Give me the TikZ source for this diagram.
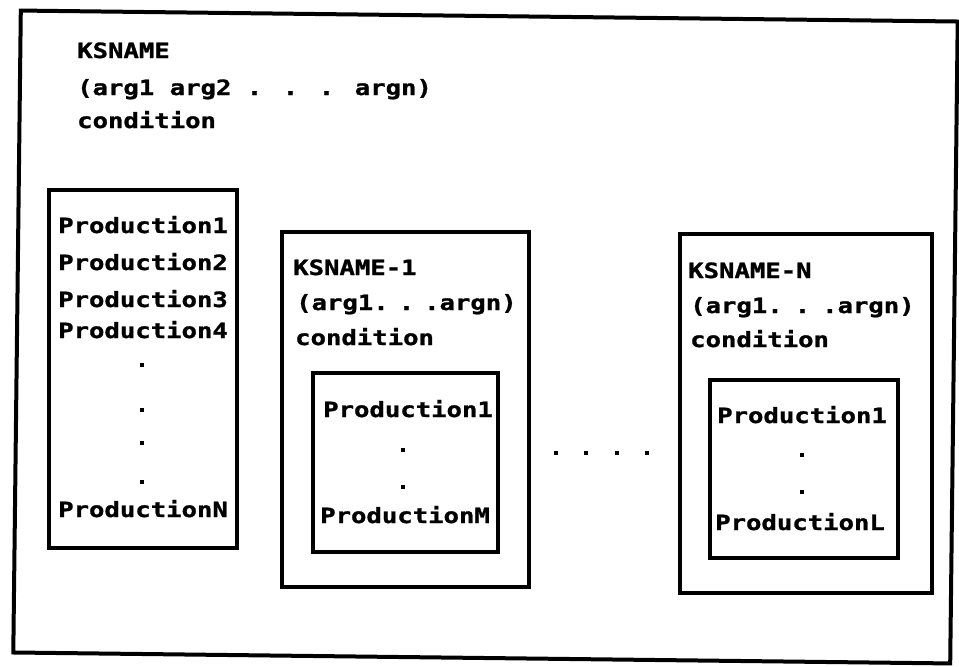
\documentclass[tikz,border=0pt]{standalone}
\usepackage{fontspec}
\newfontfamily\dm{DejaVu Sans Mono}[FakeStretch=1.22,BoldFeatures={FakeBold=1.2}]
\begin{document}
\begin{tikzpicture}[x=1pt,y=-1pt,
  frame/.style={draw, line width=4pt, inner sep=0pt},
  box/.style={draw, line width=3.5pt, inner sep=0pt},
  txt/.style={font=\dm\bfseries\fontsize{21}{21}\selectfont, inner sep=0pt, anchor=base west},
  dotm/.style={fill, inner sep=0pt, minimum size=4pt}]
\useasboundingbox (0,0) rectangle (959,667);
\fill[white] (0,0) rectangle (959,667);
% outer frame
\node[frame, minimum width=937pt, minimum height=642pt, rotate=-0.67] (outer) at (485.5,337) {};
% header
\node[txt] (h1) at (77,58) {KSNAME};
\node[txt] (h2) at (77,95) {(arg1 arg2 . . . argn)};
\node[txt] (h3) at (77,128) {condition};
% left box
\node[box, minimum width=188pt, minimum height=358pt] (lb) at (143,369) {};
\node[txt] (l1) at (58,233) {Production1};
\node[txt] (l2) at (58,270) {Production2};
\node[txt] (l3) at (58,307) {Production3};
\node[txt] (l4) at (58,338) {Production4};
\node[dotm] (ld1) at (142,365) {};
\node[dotm] (ld2) at (142,410) {};
\node[dotm] (ld3) at (142,443) {};
\node[dotm] (ld4) at (142,482) {};
\node[txt] (ln) at (58,517) {ProductionN};
% KSNAME-1 box
\node[box, minimum width=247pt, minimum height=355pt] (k1) at (405.5,409.5) {};
\node[txt] (k1a) at (293,275) {KSNAME-1};
\node[txt] (k1b) at (296,310) {(arg1.\hspace{10pt}.\hspace{10pt}.argn)};
\node[txt] (k1c) at (295,345) {condition};
\node[box, minimum width=185pt, minimum height=179pt] (p1) at (405.5,462.5) {};
\node[txt] (p1a) at (323,417) {Production1};
\node[dotm] (pd1) at (403,450) {};
\node[dotm] (pd2) at (403,487) {};
\node[txt] (p1m) at (320,523) {ProductionM};
% ellipsis between
\node[dotm] (e1) at (556,453) {};
\node[dotm] (e2) at (586,453) {};
\node[dotm] (e3) at (617,453) {};
\node[dotm] (e4) at (647,453) {};
% KSNAME-N box
\node[box, minimum width=252pt, minimum height=359pt] (kn) at (806,413.5) {};
\node[txt] (kna) at (688,278) {KSNAME-N};
\node[txt] (knb) at (690,313) {(arg1.\hspace{12pt}.\hspace{12pt}.argn)};
\node[txt] (knc) at (690,347) {condition};
\node[box, minimum width=188pt, minimum height=178pt] (pn) at (804,469) {};
\node[txt] (pna) at (717,423) {Production1};
\node[dotm] (qd1) at (802,455) {};
\node[dotm] (qd2) at (802,492) {};
\node[txt] (pnl) at (715,530) {ProductionL};
\end{tikzpicture}
\end{document}
